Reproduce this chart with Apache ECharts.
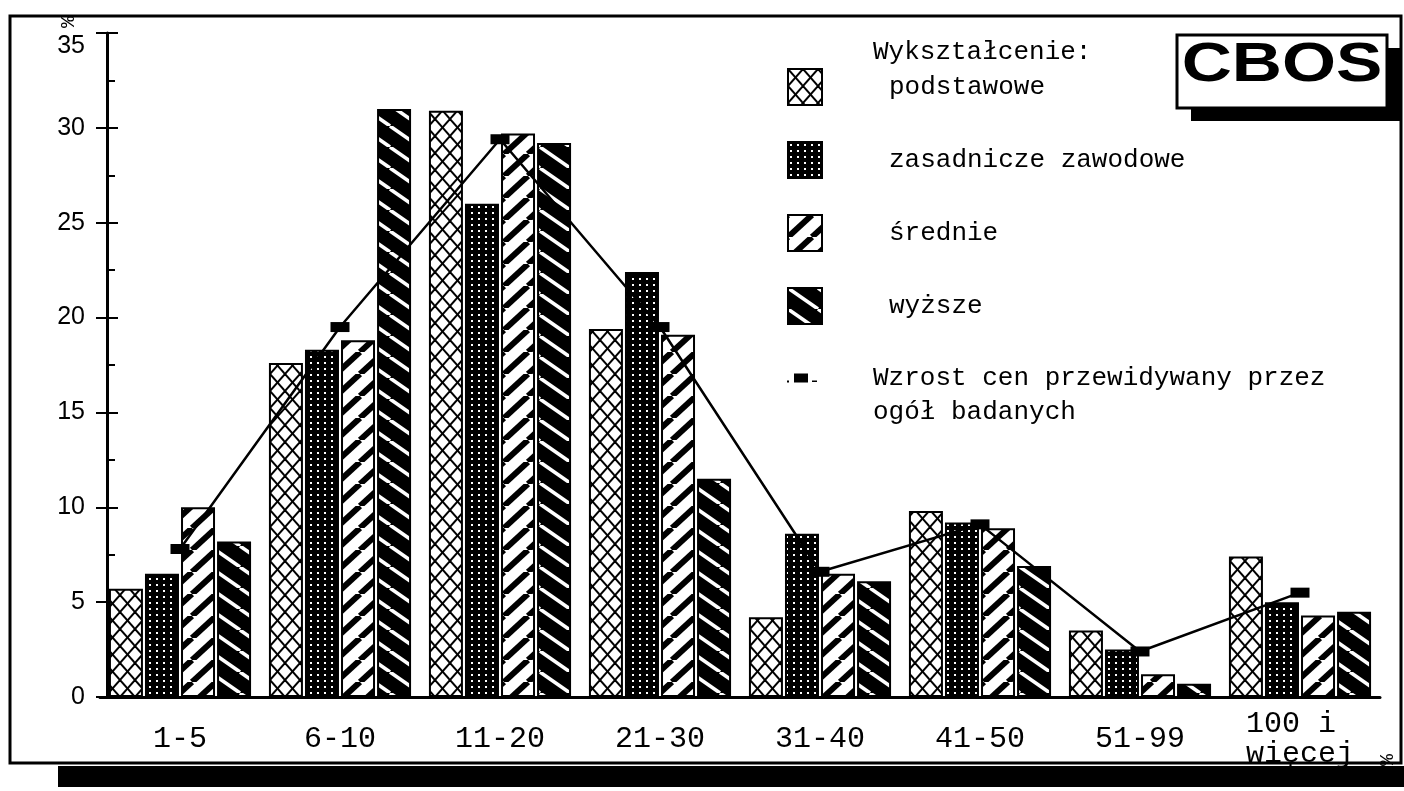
<!DOCTYPE html>
<html>
<head>
<meta charset="utf-8">
<title>Wzrost cen</title>
<script src="https://cdn.jsdelivr.net/npm/echarts@6/dist/echarts.min.js"></script>
<style>
  html, body { margin: 0; padding: 0; background: #fff; }
  #chart { width: 1404px; height: 791px; }
</style>
</head>
<body>
<div id="chart"></div>
<script>
// dane (%)
const categories = ['1-5', '6-10', '11-20', '21-30', '31-40', '41-50', '51-99', '100 i więcej'];
const podstawowe = [5.7, 17.6, 30.9, 19.4, 4.2, 9.8, 3.5, 7.4];
const zasadnicze = [6.5, 18.3, 26.0, 22.4, 8.6, 9.2, 2.5, 5.0];
const srednie = [10.0, 18.8, 29.7, 19.1, 6.5, 8.9, 1.2, 4.3];
const wyzsze = [8.2, 31.0, 29.2, 11.5, 6.1, 6.9, 0.7, 4.5];
const ogol = [7.8, 19.5, 29.4, 19.5, 6.6, 9.1, 2.4, 5.5];
const yMin = 0, yMax = 35, yStep = 5;

const lineName = 'Wzrost cen przewidywany przez ogół badanych';
const monoFont = 'Liberation Mono';

// wzory wypełnienia słupków (czarno-białe)
function crossTile(w, h) {
  const c = document.createElement('canvas');
  c.width = w; c.height = h;
  const ctx = c.getContext('2d');
  ctx.fillStyle = '#fff';
  ctx.fillRect(0, 0, w, h);
  ctx.strokeStyle = '#000';
  ctx.lineWidth = 2;
  for (const dx of [-w, 0, w]) {
    ctx.beginPath(); ctx.moveTo(dx, 0); ctx.lineTo(dx + w, h); ctx.stroke();
    ctx.beginPath(); ctx.moveTo(dx, h); ctx.lineTo(dx + w, 0); ctx.stroke();
  }
  return c;
}

function dotTile(w, h) {
  const c = document.createElement('canvas');
  c.width = w; c.height = h;
  const ctx = c.getContext('2d');
  ctx.fillStyle = '#000';
  ctx.fillRect(0, 0, w, h);
  ctx.fillStyle = '#fff';
  ctx.fillRect(2, 2, 2, 2);
  return c;
}

function stripeTile(w, h, bg, fg, lw, dir) {
  const c = document.createElement('canvas');
  c.width = w; c.height = h;
  const ctx = c.getContext('2d');
  ctx.fillStyle = bg;
  ctx.fillRect(0, 0, w, h);
  ctx.strokeStyle = fg;
  ctx.lineWidth = lw;
  for (const dx of [-w, 0, w]) {
    ctx.beginPath();
    if (dir === '/') { ctx.moveTo(dx, h); ctx.lineTo(dx + w, 0); }
    else { ctx.moveTo(dx, 0); ctx.lineTo(dx + w, h); }
    ctx.stroke();
  }
  return c;
}

const patCross = { image: crossTile(15, 17), repeat: 'repeat' };
const patDots = { image: dotTile(7, 6), repeat: 'repeat' };
const patSlash = { image: stripeTile(24, 22, '#fff', '#000', 6, '/'), repeat: 'repeat' };
const patBack = { image: stripeTile(30, 21, '#000', '#fff', 3.5, '\\'), repeat: 'repeat' };

function barSeries(name, data, pattern) {
  return {
    name: name,
    type: 'bar',
    data: data,
    barWidth: 34,
    barGap: '6%',
    itemStyle: { color: pattern, borderColor: '#000', borderWidth: 2 }
  };
}

const chart = echarts.init(document.getElementById('chart'));

const option = {
  animation: false,
  backgroundColor: '#fff',
  grid: { left: 100, right: 24, top: 33, bottom: 94, containLabel: false },
  legend: [
    {
      data: ['podstawowe', 'zasadnicze zawodowe', 'średnie', 'wyższe'],
      orient: 'vertical',
      left: 787,
      top: 68,
      padding: 0,
      icon: 'rect',
      itemWidth: 34,
      itemHeight: 36,
      itemGap: 35,
      selectedMode: false,
      textStyle: { fontFamily: monoFont, fontSize: 26, color: '#000', lineHeight: 34, padding: [0, 0, 0, 62] }
    },
    {
      data: [{ name: lineName, icon: 'path://M0,7h2v2h-2zM7,0h14v9h-14zM25,7h5v1.5h-5z' }],
      orient: 'vertical',
      left: 787,
      top: 327,
      padding: 0,
      itemWidth: 30,
      itemHeight: 10,
      selectedMode: false,
      // pusta pierwsza linia, aby ikona stała na wysokości pierwszego wiersza opisu
      formatter: n => '\n' + n.replace('przez ', 'przez\n'),
      textStyle: { fontFamily: monoFont, fontSize: 26, color: '#000', lineHeight: 34, padding: [0, 0, 0, 51] }
    }
  ],
  xAxis: {
    type: 'category',
    data: categories,
    axisLine: { lineStyle: { color: '#000', width: 3 } },
    axisTick: { show: false },
    axisLabel: {
      color: '#000',
      fontFamily: monoFont,
      fontSize: 30,
      lineHeight: 30,
      margin: 42,
      verticalAlign: 'middle',
      interval: 0,
      formatter: v => v.replace(' i ', ' i \n')
    }
  },
  yAxis: [
    {
      type: 'value',
      min: yMin, max: yMax, interval: yStep,
      offset: -7,
      axisLine: { show: true, lineStyle: { color: '#000', width: 3 } },
      axisTick: { show: true, inside: true, length: 11, lineStyle: { color: '#000', width: 2 } },
      minorTick: { show: true, splitNumber: 2, length: 8, lineStyle: { color: '#000', width: 2 } },
      splitLine: { show: false },
      axisLabel: {
        color: '#000', fontFamily: 'Liberation Sans', fontSize: 25, margin: 22,
        formatter: v => (v === yMax ? '{top|' + v + '}' : String(v)),
        rich: { top: { color: '#000', fontFamily: 'Liberation Sans', fontSize: 25, padding: [26, 0, 0, 0] } }
      }
    },
    {
      type: 'value',
      min: yMin, max: yMax, interval: yStep,
      position: 'left',
      offset: -7,
      axisLine: { show: false },
      axisTick: { show: true, inside: false, length: 11, lineStyle: { color: '#000', width: 2 } },
      splitLine: { show: false },
      axisLabel: { show: false }
    }
  ],
  series: [
    barSeries('podstawowe', podstawowe, patCross),
    barSeries('zasadnicze zawodowe', zasadnicze, patDots),
    barSeries('średnie', srednie, patSlash),
    barSeries('wyższe', wyzsze, patBack),
    {
      name: lineName,
      type: 'line',
      data: ogol,
      z: 5,
      symbol: 'rect',
      symbolSize: [19, 10],
      lineStyle: { color: '#000', width: 2.5 },
      itemStyle: { color: '#000' }
    }
  ],
  graphic: [
    // ramka i cień
    { type: 'rect', z: 0, shape: { x: 58, y: 766, width: 1346, height: 21 }, style: { fill: '#000' } },
    { type: 'rect', z: 1, shape: { x: 10, y: 16, width: 1391, height: 747 }, style: { fill: null, stroke: '#000', lineWidth: 3 } },
    // logo CBOS
    { type: 'rect', z: 10, shape: { x: 1191, y: 48, width: 210, height: 73 }, style: { fill: '#000' } },
    { type: 'rect', z: 11, shape: { x: 1177, y: 35, width: 210, height: 73 }, style: { fill: '#fff', stroke: '#000', lineWidth: 3 } },
    {
      type: 'text', z: 12, x: 1282, y: 66, scaleX: 1.24,
      style: { text: 'CBOS', fill: '#000', font: 'bold 56px "Liberation Sans"', textAlign: 'center', textVerticalAlign: 'middle' }
    },
    {
      type: 'text', z: 12, x: 873, y: 52,
      style: { text: 'Wykształcenie:', fill: '#000', font: '26px "Liberation Mono"', textVerticalAlign: 'middle' }
    },
    {
      type: 'text', z: 12, x: 69, y: 22, rotation: Math.PI / 2,
      style: { text: '%', fill: '#000', font: '20px "Liberation Mono"', textAlign: 'center', textVerticalAlign: 'middle' }
    },
    {
      type: 'text', z: 12, x: 1388, y: 760, rotation: Math.PI / 2,
      style: { text: '%', fill: '#000', font: '20px "Liberation Mono"', textAlign: 'center', textVerticalAlign: 'middle' }
    }
  ]
};

chart.setOption(option);
</script>
</body>
</html>
